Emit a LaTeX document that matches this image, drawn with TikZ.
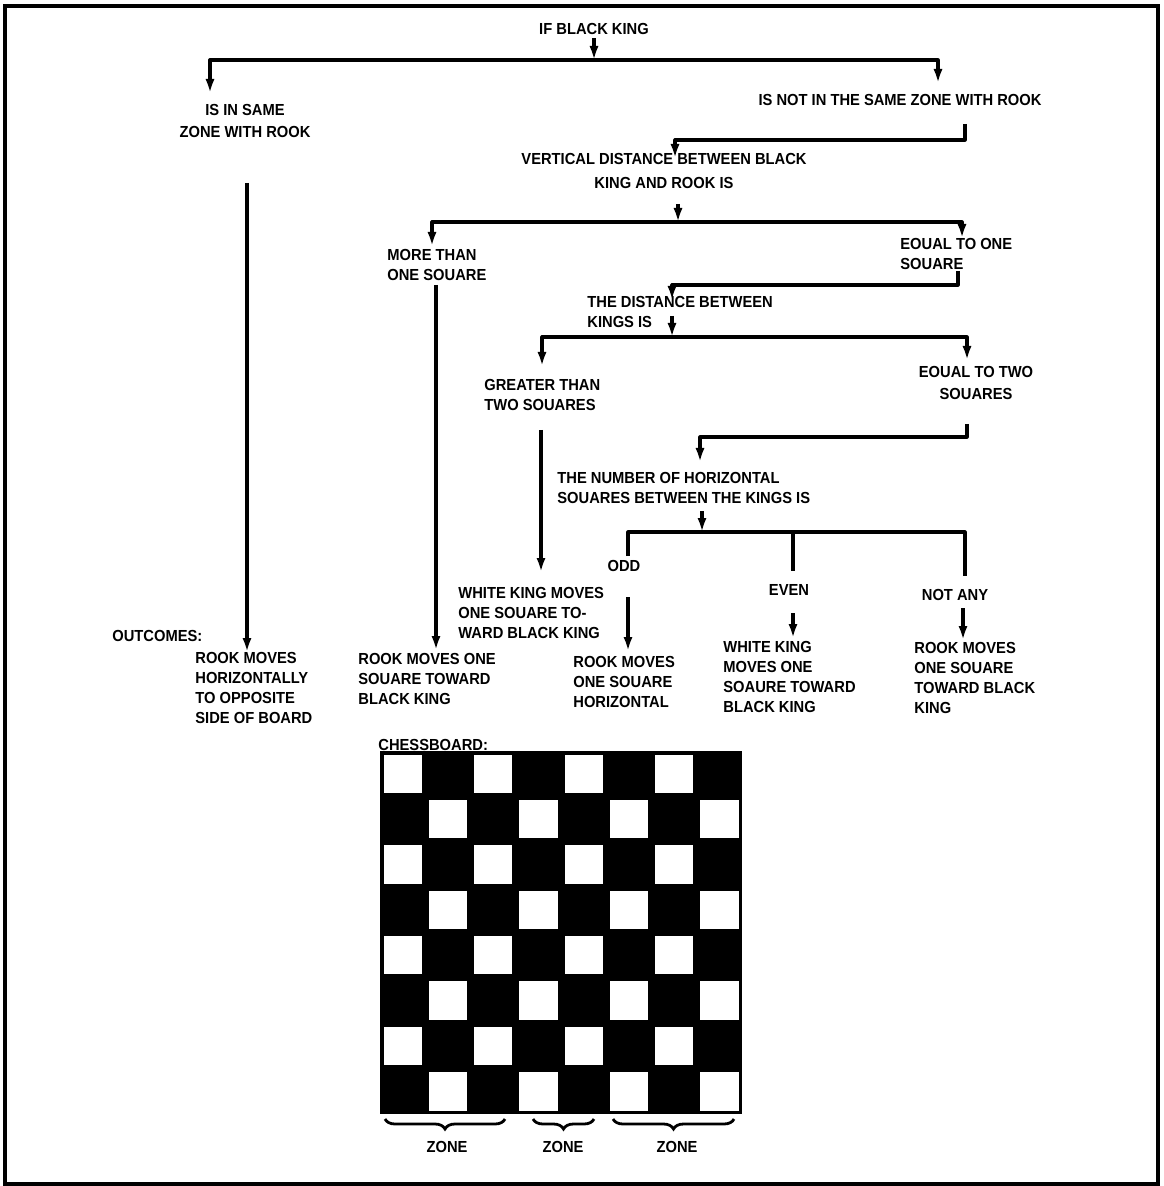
\documentclass[tikz,border=0pt]{standalone}
\usepackage{fontspec}
\setmainfont{Liberation Sans}[FakeStretch=0.92]
\usetikzlibrary{arrows.meta, decorations.pathreplacing}
\newcommand{\flowfont}{\fontsize{8}{10}\selectfont\bfseries}

\begin{document}
\begin{tikzpicture}[
  x=0.5pt, y=-0.5pt,
  txt/.style={font=\flowfont, inner sep=0pt, align=left, anchor=west},
  ctxt/.style={font=\flowfont, inner sep=0pt, align=center},
  wire/.style={line width=1.6pt, line join=round},
  flow/.style={wire, -{Latex[length=7pt, width=4.6pt]}},
  zbrace/.style={decorate, decoration={brace, mirror, amplitude=5pt}, line width=1.4pt},
]
\useasboundingbox (0,0) rectangle (1163,1186);
\draw[line width=2pt] (5,6) rectangle (1158,1184);

% --- Questions and answers ---
\node[ctxt] (ifbk) at (594,29) {IF BLACK KING};
\node[ctxt] (same) at (245,121) {IS IN SAME\\[1pt]ZONE WITH ROOK};
\node[ctxt] (notsame) at (900,100) {IS NOT IN THE SAME ZONE WITH ROOK};
\node[ctxt] (vdist) at (664,171) {VERTICAL DISTANCE BETWEEN BLACK\\[2pt]KING AND ROOK IS};
\node[txt] (more) at (387,264.5) {MORE THAN\\ONE SOUARE};
\node[txt] (eqone) at (900,254) {EOUAL TO ONE\\SOUARE};
\node[txt] (kdist) at (587,312) {THE DISTANCE BETWEEN\\KINGS IS};
\node[txt] (greater) at (484,394.5) {GREATER THAN\\TWO SOUARES};
\node[ctxt] (eqtwo) at (976,383) {EOUAL TO TWO\\[1pt]SOUARES};
\node[txt] (hnum) at (557,487.5) {THE NUMBER OF HORIZONTAL\\SOUARES BETWEEN THE KINGS IS};
\node[ctxt] (odd) at (624,566) {ODD};
\node[ctxt] (even) at (789,590) {EVEN};
\node[ctxt] (notany) at (955,595) {NOT ANY};

% --- Outcomes ---
\node[txt] (outlbl) at (112,636) {OUTCOMES:};
\node[txt] (out1) at (195,687.5) {ROOK MOVES\\HORIZONTALLY\\TO OPPOSITE\\SIDE OF BOARD};
\node[txt] (out2) at (358,678.5) {ROOK MOVES ONE\\SOUARE TOWARD\\BLACK KING};
\node[txt] (out3) at (458,613) {WHITE KING MOVES\\ONE SOUARE TO-\\WARD BLACK KING};
\node[txt] (out4) at (573,681.5) {ROOK MOVES\\ONE SOUARE\\HORIZONTAL};
\node[txt] (out5) at (723,676.5) {WHITE KING\\MOVES ONE\\SOAURE TOWARD\\BLACK KING};
\node[txt] (out6) at (914,678) {ROOK MOVES\\ONE SOUARE\\TOWARD BLACK\\KING};

% --- Junctions ---
\coordinate (bar1) at (594,60);
\coordinate (in1a) at (210,93);
\coordinate (in1b) at (938,83);
\coordinate (up2) at (965,124);
\coordinate (in2) at (675,158);
\coordinate (up3) at (678,204);
\coordinate (bar3) at (678,222);
\coordinate (in3a) at (432,246);
\coordinate (in3b) at (962,238);
\coordinate (up4) at (958,271);
\coordinate (in4) at (672,300);
\coordinate (up5) at (672,316);
\coordinate (bar5) at (672,337);
\coordinate (in5a) at (542,366);
\coordinate (in5b) at (967,360);
\coordinate (up6) at (967,424);
\coordinate (in6) at (700,462);
\coordinate (up7) at (702,511);
\coordinate (bar7) at (702,532);
\coordinate (d7a) at (628,556);
\coordinate (d7b) at (793,571);
\coordinate (d7c) at (965,576);

% --- Connectors ---
\draw[flow, shorten <=1.5pt] (ifbk) -- (bar1);
\draw[flow] (bar1) -| (in1a);
\draw[flow] (bar1) -| (in1b);
\draw[flow] (up2) -- ++(0,16) -| (in2);
\draw[flow] (up3) -- (bar3);
\draw[flow] (bar3) -| (in3a);
\draw[flow] (bar3) -| (in3b);
\draw[flow] (up4) -- ++(0,14) -| (in4);
\draw[flow] (up5) -- (bar5);
\draw[flow] (bar5) -| (in5a);
\draw[flow] (bar5) -| (in5b);
\draw[flow] (up6) -- ++(0,13) -| (in6);
\draw[flow] (up7) -- (bar7);
\draw[wire] (d7a) -- (d7a |- bar7) -- (d7c |- bar7) -- (d7c);
\draw[wire] (d7b |- bar7) -- (d7b);
\foreach \n/\x/\ya/\yb in {a/247/183/652, b/436/285/650, c/541/430/572, d/628/597/651, e/793/613/638, f/963/608/640}{
  \coordinate (s\n) at (\x,\ya);
  \coordinate (e\n) at (\x,\yb);
  \draw[flow] (s\n) -- (e\n);
}

% --- Chessboard ---
\node[txt] (cblbl) at (378,745) {CHESSBOARD:};
\fill (380,751) rectangle (742,1114);
\foreach \r in {0,...,7}{
  \foreach \c in {0,...,7}{
    \pgfmathtruncatemacro{\sqpar}{mod(\r+\c,2)}
    \ifnum\sqpar=0
      \fill[white] ({380+\c*45.25+3.5},{751+\r*45.375+3.5}) rectangle ({380+(\c+1)*45.25-3.5},{751+(\r+1)*45.375-3.5});
    \fi
  }
}
\draw[zbrace] (385,1119) -- (505,1119);
\draw[zbrace] (533,1119) -- (594,1119);
\draw[zbrace] (613,1119) -- (734,1119);
\node[ctxt] (z1) at (447,1147) {ZONE};
\node[ctxt] (z2) at (563,1147) {ZONE};
\node[ctxt] (z3) at (677,1147) {ZONE};
\end{tikzpicture}
\end{document}
